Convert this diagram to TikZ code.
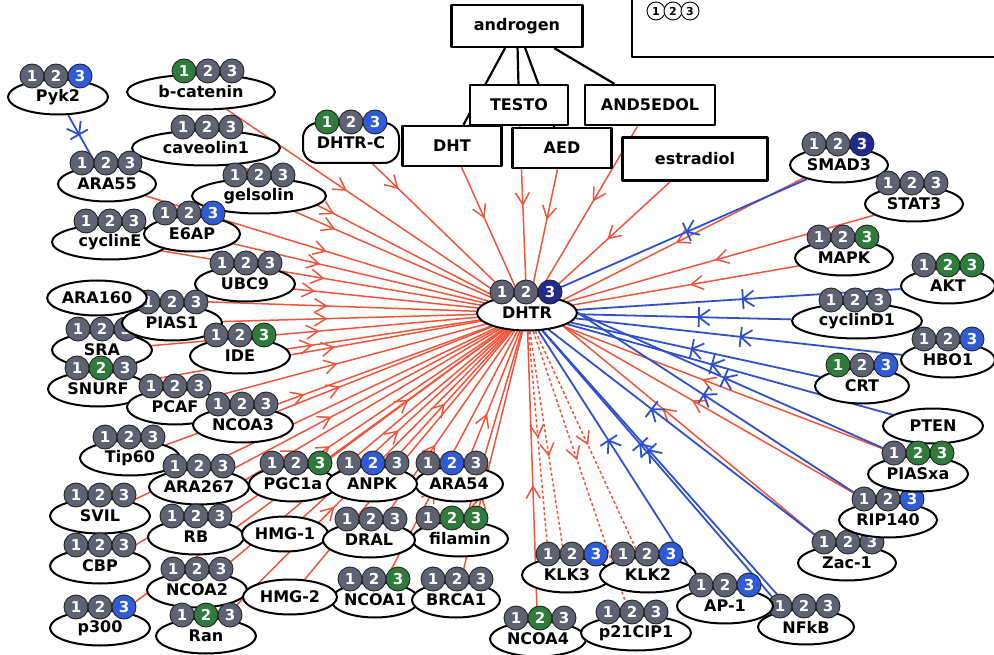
\documentclass[tikz,border=0pt]{standalone}
\usepackage{fontspec}
\setmainfont{DejaVu Sans}
\usetikzlibrary{shapes.geometric,decorations.markings,backgrounds}
\definecolor{bgray}{HTML}{5E6272}
\definecolor{bgreen}{HTML}{2E7B3C}
\definecolor{bblue}{HTML}{2F5BD8}
\definecolor{bnavy}{HTML}{1F2C8E}
\definecolor{lred}{HTML}{F2543A}
\definecolor{lblue}{HTML}{2F4FD0}
\tikzset{
  prot/.style={ellipse,draw,line width=2pt,fill=white,minimum height=35pt,inner sep=0pt,
    font=\bfseries\fontsize{16}{16}\selectfont},
  pill/.style={rectangle,rounded corners=15pt,draw,line width=2pt,fill=white,minimum height=40pt,
    minimum width=96pt,inner sep=0pt,font=\bfseries\fontsize{16}{16}\selectfont},
  box/.style={rectangle,draw,line width=2.2pt,fill=white,minimum height=40pt,inner sep=0pt,
    font=\bfseries\fontsize{16}{16}\selectfont},
  badge/.style={circle,draw=black!85,line width=0.9pt,fill=#1,text=white,minimum size=24pt,inner sep=0pt,
    font=\bfseries\fontsize{15}{15}\selectfont},
  legend/.style={circle,draw,line width=0.9pt,fill=white,minimum size=18pt,inner sep=0pt,
    font=\bfseries\fontsize{11}{11}\selectfont},
  link/.style={draw=black,line width=2.2pt},
  act/.style={draw=lred,line width=1.5pt,postaction={decorate},decoration={markings,
    mark=at position -#1pt with {\draw[lred,solid,line width=1.5pt] (-12pt,7pt) -- (0pt,0pt) -- (-12pt,-7pt);}}},
  act/.default=130,
  inh/.style={draw=lblue,line width=1.8pt,postaction={decorate},decoration={markings,
    mark=at position -#1pt with {\draw[lblue,line width=1.8pt] (-11pt,8pt) -- (0pt,0pt) -- (-11pt,-8pt) (0pt,-10pt) -- (0pt,10pt);}}},
  inh/.default=150,
  dots/.style={draw=lred,line width=1.5pt,dash pattern=on 3pt off 2.5pt,postaction={decorate},decoration={markings,
    mark=at position #1 with {\draw[lred,solid,line width=1.5pt] (-12pt,7pt) -- (0pt,0pt) -- (-12pt,-7pt);}}},
  dots/.default=0.55,
}
% protein: name, x, y, width, label, badge centre x, colours of 1 2 3
\newcommand{\protnode}[9]{%
  \node (#1) at (#2,#3) [prot,minimum width=#4pt] {#5};
  \node (#1_1) at (#6-24,#3-21) [badge=#7] {1};
  \node (#1_2) at (#6,#3-21) [badge=#8] {2};
  \node (#1_3) at (#6+24,#3-21) [badge=#9] {3};}

\begin{document}
\begin{tikzpicture}[x=1pt,y=-1pt,line join=bevel]
\useasboundingbox (0,0) rectangle (994,655);
%% legend
\draw [line width=2.2pt] (632,-10) rectangle (1004,57);
\node (leg_1) at (656,11) [legend] {1};
\node (leg_2) at (673,11) [legend] {2};
\node (leg_3) at (690,11) [legend] {3};
%% hormones
\node (androgen) at (517,26) [box,minimum width=131pt,minimum height=42pt] {androgen};
\node (testo) at (519,105) [box,minimum width=98pt] {TESTO};
\node (and5edol) at (650,105) [box,minimum width=130pt] {AND5EDOL};
\node (dht) at (452,146) [box,minimum width=99pt] {DHT};
\node (aed) at (562,148) [box,minimum width=99pt] {AED};
\node (estradiol) at (695,159) [box,minimum width=145pt,minimum height=43pt] {estradiol};
%% receptor
\protnode{dhtr}{527}{313}{100}{DHTR}{526}{bgray}{bgray}{bnavy}
\node (dhtr_c) at (351,143) [pill] {DHTR-C};
\node (dhtr_c_1) at (327,122) [badge=bgreen] {1};
\node (dhtr_c_2) at (351,122) [badge=bgray] {2};
\node (dhtr_c_3) at (375,122) [badge=bblue] {3};
%% left
\protnode{pyk2}{58}{97}{100}{Pyk2}{56}{bgray}{bgray}{bblue}
\protnode{b_catenin}{201}{92}{148}{b-catenin}{208}{bgreen}{bgray}{bgray}
\protnode{caveolin1}{206}{148}{148}{caveolin1}{207}{bgray}{bgray}{bgray}
\protnode{ara55}{107}{184}{98}{ARA55}{106}{bgray}{bgray}{bgray}
\protnode{gelsolin}{259}{196}{134}{gelsolin}{259}{bgray}{bgray}{bgray}
\protnode{cycline}{110}{242}{116}{cyclinE}{110}{bgray}{bgray}{bgray}
\protnode{e6ap}{192}{234}{96}{E6AP}{189}{bgray}{bgray}{bblue}
\protnode{ubc9}{245}{284}{100}{UBC9}{246}{bgray}{bgray}{bgray}
\protnode{sra}{102}{350}{100}{SRA}{102}{bgray}{bgray}{bgray}
\protnode{pias1}{172}{323}{100}{PIAS1}{172}{bgray}{bgray}{bgray}
\node (ara160) at (97,298) [prot,minimum width=98pt] {ARA160};
\protnode{ide}{240}{356}{100}{IDE}{240}{bgray}{bgray}{bgreen}
\protnode{snurf}{98}{389}{100}{SNURF}{101}{bgray}{bgreen}{bgray}
\protnode{pcaf}{175}{407}{96}{PCAF}{175}{bgray}{bgray}{bgray}
\protnode{ncoa3}{243}{425}{100}{NCOA3}{242}{bgray}{bgray}{bgray}
\protnode{tip60}{130}{458}{100}{Tip60}{129}{bgray}{bgray}{bgray}
\protnode{ara267}{199}{487}{100}{ARA267}{199}{bgray}{bgray}{bgray}
\protnode{svil}{100}{516}{100}{SVIL}{100}{bgray}{bgray}{bgray}
\protnode{rb}{196}{537}{96}{RB}{196}{bgray}{bgray}{bgray}
\protnode{cbp}{100}{566}{100}{CBP}{100}{bgray}{bgray}{bgray}
\protnode{ncoa2}{197}{590}{100}{NCOA2}{197}{bgray}{bgray}{bgray}
\protnode{p300}{100}{628}{100}{p300}{100}{bgray}{bgray}{bblue}
\protnode{ran}{206}{636}{100}{Ran}{206}{bgray}{bgreen}{bgray}
%% bottom
\protnode{pgc1a}{293}{484}{88}{PGC1a}{296}{bgray}{bgray}{bgreen}
\protnode{ara54}{459}{484}{88}{ARA54}{452}{bgray}{bblue}{bgray}
\protnode{anpk}{372}{484}{90}{ANPK}{373}{bgray}{bblue}{bgray}
\node (hmg1) at (285,534) [prot,minimum width=86pt] {HMG-1};
\protnode{filamin}{460}{539}{96}{filamin}{452}{bgray}{bgreen}{bgreen}
\protnode{dral}{369}{540}{92}{DRAL}{371}{bgray}{bgray}{bgray}
\protnode{ncoa1}{375}{600}{86}{NCOA1}{374}{bgray}{bgray}{bgreen}
\node (hmg2) at (290,597) [prot,minimum width=94pt] {HMG-2};
\protnode{brca1}{456}{600}{88}{BRCA1}{457}{bgray}{bgray}{bgray}
\protnode{klk3}{567}{575}{90}{KLK3}{572}{bgray}{bgray}{bblue}
\protnode{klk2}{648}{575}{96}{KLK2}{647}{bgray}{bgray}{bblue}
\protnode{ncoa4}{538}{639}{96}{NCOA4}{540}{bgray}{bgreen}{bgray}
\protnode{p21cip1}{636}{633}{110}{p21CIP1}{632}{bgray}{bgray}{bgray}
\protnode{nfkb}{806}{627}{96}{NFkB}{804}{bgray}{bgray}{bgray}
\protnode{ap1}{725}{606}{96}{AP-1}{725}{bgray}{bgray}{bblue}
%% right
\protnode{smad3}{839}{165}{98}{SMAD3}{838}{bgray}{bgray}{bnavy}
\protnode{stat3}{914}{204}{98}{STAT3}{912}{bgray}{bgray}{bgray}
\protnode{mapk}{844}{258}{98}{MAPK}{843}{bgray}{bgray}{bgreen}
\protnode{akt}{948}{286}{94}{AKT}{948}{bgray}{bgreen}{bgreen}
\protnode{cyclind1}{857}{321}{130}{cyclinD1}{855}{bgray}{bgray}{bgray}
\protnode{crt}{862}{386}{94}{CRT}{862}{bgreen}{bgray}{bblue}
\protnode{hbo1}{948}{360}{94}{HBO1}{948}{bgray}{bgray}{bblue}
\node (pten) at (933,426) [prot,minimum width=100pt] {PTEN};
\protnode{zac1}{847}{563}{98}{Zac-1}{848}{bgray}{bgray}{bgray}
\protnode{rip140}{888}{520}{98}{RIP140}{888}{bgray}{bgray}{bblue}
\protnode{piasxa}{918}{474}{100}{PIASxa}{918}{bgray}{bgreen}{bgreen}
%% edges
\begin{scope}[on background layer]
\draw [link] (androgen) -- (testo);
\draw [link] (androgen) -- (dht);
\draw [link] (androgen) -- (aed);
\draw [link] (androgen) -- (and5edol);
%
\draw [act=155] (dhtr_c) -- (dhtr);
\draw [act=85] (dht) -- (dhtr);
\draw [act=90] (testo) -- (dhtr);
\draw [act=78] (aed) -- (dhtr);
\draw [act=110] (and5edol) -- (dhtr);
\draw [act=85] (estradiol) -- (dhtr);
\draw [act=190] (b_catenin) -- (dhtr);
\draw [act=185] (caveolin1) -- (dhtr);
\draw [act=170] (ara55) -- (dhtr);
\draw [act=175] (gelsolin) -- (dhtr);
\draw [act=170] (e6ap) -- (dhtr);
\draw [act=160] (cycline) -- (dhtr);
\draw [act=165] (ubc9) -- (dhtr);
\draw [act=150] (ara160) -- (dhtr);
\draw [act=150] (pias1) -- (dhtr);
\draw [act=160] (sra) -- (dhtr);
\draw [act=170] (ide) -- (dhtr);
\draw [act=150] (snurf) -- (dhtr);
\draw [act=155] (pcaf) -- (dhtr);
\draw [act=165] (ncoa3) -- (dhtr);
\draw [act=200] (tip60) -- (dhtr);
\draw [act=190] (ara267) -- (dhtr);
\draw [act=230] (svil) -- (dhtr);
\draw [act=210] (rb) -- (dhtr);
\draw [act=240] (cbp) -- (dhtr);
\draw [act=230] (ncoa2) -- (dhtr);
\draw [act=260] (p300) -- (dhtr);
\draw [act=250] (ran) -- (dhtr);
\draw [act=120] (pgc1a) -- (dhtr);
\draw [act=100] (anpk) -- (dhtr);
\draw [act=90] (ara54) -- (dhtr);
\draw [act=150] (hmg1) -- (dhtr);
\draw [act=140] (dral) -- (dhtr);
\draw [act=130] (filamin) -- (dhtr);
\draw [act=190] (hmg2) -- (dhtr);
\draw [act=180] (ncoa1) -- (dhtr);
\draw [act=170] (brca1) -- (dhtr);
\draw [act=155] (ncoa4) -- (dhtr);
\draw [act=128] (smad3.south west) -- (dhtr.north east);
\draw [act=155] (stat3) -- (dhtr);
\draw [act=120] (mapk) -- (dhtr);
\draw [act=150] (piasxa_1) -- (dhtr.south east);
\draw [act=150] (rip140_1) -- (dhtr.south east);
\draw [act=130] (zac1_1) -- (dhtr.south east);
%
\draw [dots=0.5] (dhtr) -- (klk3_1);
\draw [dots=0.55] (dhtr) -- (klk3);
\draw [dots=0.45] (dhtr) -- (p21cip1);
\draw [dots=0.5] (dhtr) -- (klk2);
%
\draw [inh=36] (pyk2) -- (ara55);
\draw [inh=137] (smad3) -- (dhtr_3);
\draw [inh=166] (akt) -- (dhtr);
\draw [inh=121] (cyclind1) -- (dhtr);
\draw [inh=166] (hbo1) -- (dhtr);
\draw [inh=124] (crt) -- (dhtr);
\draw [inh=150] (pten) -- (dhtr);
\draw [inh=160] (piasxa_1) -- (dhtr.east);
\draw [inh=150] (rip140_1) -- (dhtr.east);
\draw [inh=130] (zac1_1) -- (dhtr);
\draw [inh=130] (ap1_1) -- (dhtr);
\draw [inh=150] (nfkb_1) -- (dhtr);
\draw [inh=160] (nfkb) -- (dhtr);
\end{scope}
\end{tikzpicture}
\end{document}
